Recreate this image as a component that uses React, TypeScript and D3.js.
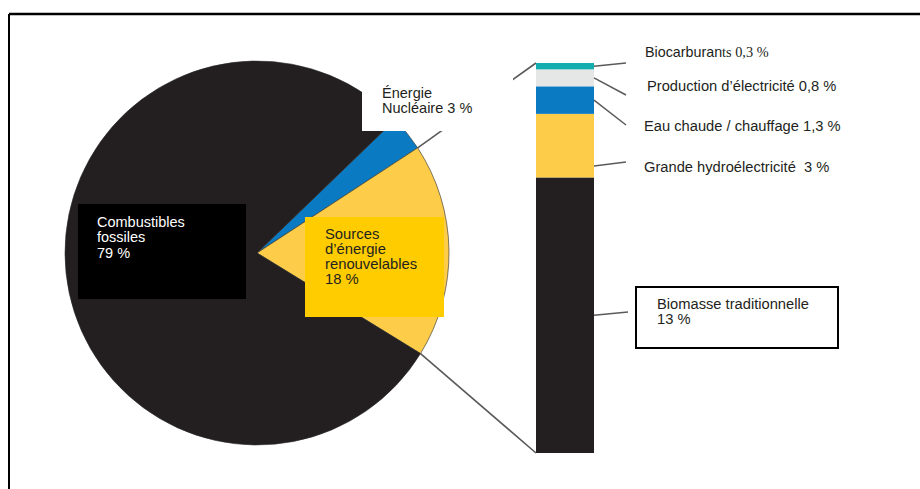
import React from "react";
import * as d3 from "d3";

// ---- Data ----
const pieCategories = ["Énergie Nucléaire", "Sources d'énergie renouvelables", "Combustibles fossiles"];
const pieValues = [3, 18, 79];
const pieColors = ["#0a7bc3", "#fdcd4a", "#231f20"];

const barCategories = [
  "Biomasse traditionnelle",
  "Grande hydroélectricité",
  "Eau chaude / chauffage",
  "Production d’électricité",
  "Biocarburants",
];
const barValues = [13, 3, 1.3, 0.8, 0.3];
const barColors = ["#231f20", "#fdcd4a", "#0a7bc3", "#e5e6e6", "#14adaf"];
const barLabels = ["13 %", "3 %", "1,3 %", "0,8 %", "0,3 %"];

const W = 920;
const H = 489;
const FONT = "'Liberation Sans', Arial, sans-serif";

export default function App() {
  // pie
  const cx = 257;
  const cy = 253;
  const r = 192;
  const start = (46 * Math.PI) / 180;
  const pie = d3
    .pie<number>()
    .sort(null)
    .startAngle(start)
    .endAngle(start + 2 * Math.PI)
    .value((d) => d);
  const arcs = pie(pieValues);
  const arcGen = d3.arc<d3.PieArcDatum<number>>().innerRadius(0).outerRadius(r);
  const rim = (a: number) => [cx + r * Math.sin(a), cy - r * Math.cos(a)];
  const renew = arcs[1];
  const pTop = rim(renew.startAngle);
  const pBot = rim(renew.endAngle);

  // bar
  const total = d3.sum(barValues);
  const y = d3.scaleLinear().domain([0, total]).range([453, 63]);
  const barX = 536;
  const barW = 58;
  const cum = d3.cumsum(barValues);
  const segs = barValues.map((v, i) => ({
    v,
    y0: y(cum[i] - v),
    y1: y(cum[i]),
  }));
  const anchorFrac = [0.5, 0.82, 0.5, 0.5, 0.5];
  const labelEnd = [
    [628, 312],
    [626, 162],
    [626, 125],
    [626, 95],
    [626, 63],
  ];
  const lineColor = "#5a5a5a";

  return (
    <div style={{ position: "fixed", left: 0, top: 0 }}>
      <svg width={W} height={H} style={{ display: "block", background: "#fff" }}>
        {/* frame */}
        <line x1={9} y1={14} x2={W} y2={14} stroke="#000" strokeWidth={2.5} />
        <line x1={9} y1={14} x2={9} y2={H} stroke="#000" strokeWidth={2} />

        {/* pie */}
        <g transform={`translate(${cx},${cy})`}>
          {arcs.map((a, i) => (
            <path key={i} d={arcGen(a) || ""} fill={pieColors[i]} stroke="#2a2a2a" strokeWidth={0.6} />
          ))}
        </g>

        {/* connector lines pie -> bar */}
        <line x1={pTop[0]} y1={pTop[1]} x2={barX} y2={y(total)} stroke={lineColor} strokeWidth={1.6} />
        <line x1={pBot[0]} y1={pBot[1]} x2={barX} y2={y(0)} stroke={lineColor} strokeWidth={1.6} />

        {/* nuclear label box */}
        <rect x={362} y={78} width={151} height={53} fill="#fff" />
        <text x={382} y={98} fontFamily={FONT} fontSize={14.5} fill="#231f20">
          <tspan x={382}>Énergie</tspan>
          <tspan x={382} dy={15}>Nucléaire {pieValues[0]} %</tspan>
        </text>

        {/* fossil label box */}
        <rect x={78} y={204} width={168} height={95} fill="#000" />
        <text x={97} y={227} fontFamily={FONT} fontSize={14.5} fill="#fff">
          <tspan x={97}>Combustibles</tspan>
          <tspan x={97} dy={15.3}>fossiles</tspan>
          <tspan x={97} dy={15.3}>{pieValues[2]} %</tspan>
        </text>

        {/* renewables label box */}
        <rect x={305} y={217} width={139} height={100} fill="#ffcc00" />
        <text x={325} y={239} fontFamily={FONT} fontSize={14.8} fill="#231f20">
          <tspan x={325}>Sources</tspan>
          <tspan x={325} dy={15}>d’énergie</tspan>
          <tspan x={325} dy={15}>renouvelables</tspan>
          <tspan x={325} dy={15}>{pieValues[1]} %</tspan>
        </text>

        {/* bar */}
        {segs.map((s, i) => (
          <rect key={i} x={barX} y={s.y1} width={barW} height={s.y0 - s.y1} fill={barColors[i]} />
        ))}

        {/* bar leader lines */}
        {segs.map((s, i) => {
          const ay = s.y1 + (s.y0 - s.y1) * anchorFrac[i];
          return (
            <line
              key={i}
              x1={barX + barW}
              y1={ay}
              x2={labelEnd[i][0]}
              y2={labelEnd[i][1]}
              stroke={lineColor}
              strokeWidth={1.5}
            />
          );
        })}

        {/* bar labels */}
        <text x={645} y={57} fontSize={14.3} fill="#231f20">
          <tspan fontFamily={FONT}>{barCategories[4].slice(0, 11)}</tspan>
          <tspan fontFamily="'Liberation Serif', 'Times New Roman', serif">
            {barCategories[4].slice(11)} {barLabels[4]}
          </tspan>
        </text>
        <text x={647} y={91} fontFamily={FONT} fontSize={14.7} fill="#231f20">
          {barCategories[3]} {barLabels[3]}
        </text>
        <text x={644} y={131} fontFamily={FONT} fontSize={14.7} fill="#231f20">
          {barCategories[2]} {barLabels[2]}
        </text>
        <text x={644} y={172} fontFamily={FONT} fontSize={14.7} fill="#231f20" style={{ whiteSpace: "pre" }}>
          {`${barCategories[1]}  ${barLabels[1]}`}
        </text>

        {/* biomass box */}
        <rect x={636} y={287} width={202} height={61} fill="#fff" stroke="#000" strokeWidth={2} />
        <text x={657} y={309} fontFamily={FONT} fontSize={14.7} fill="#231f20">
          <tspan x={657}>{barCategories[0]}</tspan>
          <tspan x={657} dy={15}>{barLabels[0]}</tspan>
        </text>
      </svg>
    </div>
  );
}
